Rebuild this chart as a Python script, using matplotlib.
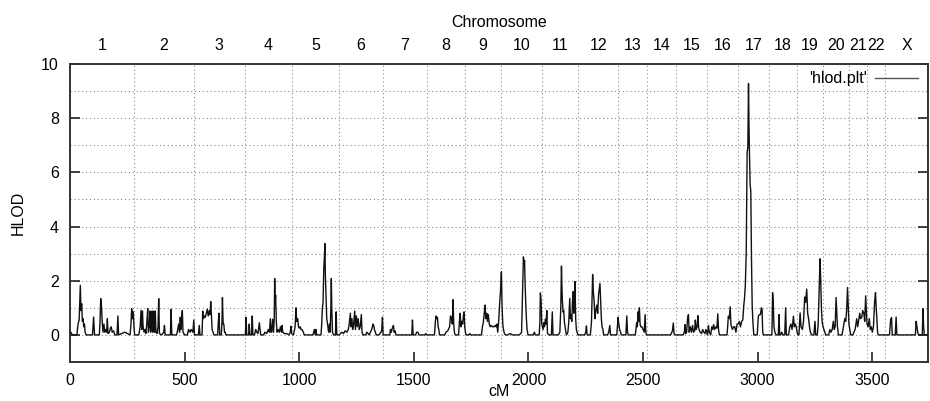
import matplotlib
matplotlib.use("Agg")
import matplotlib.pyplot as plt

plt.rcParams['font.family'] = ['Liberation Sans', 'DejaVu Sans']

# ---- data ----
chrom_names = ['1', '2', '3', '4', '5', '6', '7', '8', '9', '10', '11', '12', '13',
               '14', '15', '16', '17', '18', '19', '20', '21', '22', 'X']
chrom_bounds = [0, 278, 540, 762, 967, 1175, 1364, 1556, 1723, 1882, 2061, 2218, 2391,
                2517, 2645, 2781, 2914, 3048, 3171, 3284, 3400, 3476, 3556, 3743]

points = [
    # chr1
    (0, 0.12), (5, 0.08), (10, 0), (30, 0), (35, 0.4), (40, 0.55), (45, 1.83), (48, 0.9), (51, 1.15),
    (54, 0.5), (57, 0.6), (60, 0.3), (63, 0.4), (66, 0.1), (70, 0), (98, 0), (103, 0.66), (107, 0),
    (128, 0), (131, 0.5), (134, 1.34), (137, 1.1), (141, 0.4), (144, 0.1), (148, 0.4), (152, 0.1),
    (156, 0.2), (160, 0.1), (163, 0.6), (166, 0.05), (172, 0.1), (176, 0.25), (180, 0.3), (184, 0.1),
    (190, 0.15), (196, 0), (205, 0), (209, 0.7), (212, 0), (225, 0.05), (240, 0.1), (250, 0.05),
    (262, 0), (266, 0.4), (269, 0.97), (272, 0.6), (276, 0.85), (279, 0.3), (282, 0),
    # chr2
    (300, 0), (306, 0.3), (310, 0.9), (313, 0.2), (316, 0.88), (319, 0.3), (323, 0.1), (327, 0.2),
    (331, 0.05), (335, 0.4), (339, 0.97), (342, 0.1), (346, 0.3), (349, 0.88), (352, 0.1), (355, 0.3),
    (358, 0.88), (361, 0.1), (364, 0.3), (366, 0.88), (369, 0.1), (372, 0.88), (375, 0.1), (380, 0.05),
    (384, 0.3), (387, 1.34), (390, 0.05), (400, 0), (409, 0.1), (412, 0.35), (415, 0), (438, 0),
    (441, 0.95), (444, 0), (465, 0), (470, 0.2), (474, 0.4), (478, 0.1), (481, 0.65), (484, 0.2),
    (487, 0.6), (490, 0.9), (493, 0.1), (500, 0), (512, 0), (517, 0.2), (520, 0.15), (524, 0.1),
    (528, 0.2), (532, 0.15), (536, 0.1), (540, 0.55), (543, 0),
    # chr3
    (560, 0), (564, 0.35), (567, 0), (576, 0), (579, 0.88), (582, 0.6), (586, 0.7), (590, 0.65),
    (595, 0.8), (599, 0.95), (603, 0.7), (608, 0.9), (611, 0.75), (614, 1.23), (617, 0.7), (620, 0.2),
    (624, 0.1), (628, 0), (644, 0), (647, 0.45), (650, 0.8), (653, 0), (660, 0), (663, 0.5),
    (665, 1.38), (668, 0.4), (671, 0.4), (674, 0.1), (677, 0.1), (680, 0), (765, 0),
    # chr4
    (768, 0.65), (771, 0), (779, 0), (782, 0.4), (785, 0), (792, 0), (795, 0.7), (798, 0), (805, 0),
    (810, 0.2), (815, 0.1), (820, 0.05), (826, 0.45), (829, 0.2), (832, 0), (845, 0), (850, 0.1),
    (858, 0.05), (865, 0.2), (870, 0.1), (874, 0.6), (877, 0.1), (880, 0.1), (884, 0.58), (888, 0.1),
    (891, 0.6), (893, 2.08), (895, 1.2), (897, 1.47), (900, 0.5), (903, 0.1), (908, 0.2), (913, 0.1),
    (918, 0.3), (922, 0.1), (925, 0.35), (928, 0.1), (935, 0.05), (945, 0.05), (955, 0), (961, 0.1),
    (964, 0.32), (967, 0.05), (975, 0), (982, 0.3), (986, 1.0), (989, 0.5), (993, 0.6), (997, 0.3),
    (1000, 0.25), (1004, 0.3), (1008, 0.2), (1012, 0.2), (1018, 0.1), (1022, 0),
    # chr5
    (1060, 0), (1066, 0.2), (1070, 0), (1073, 0.2), (1076, 0), (1095, 0), (1098, 0.4), (1101, 1.0),
    (1104, 1.2), (1107, 2.45), (1110, 2.9), (1112, 3.37), (1114, 2.2), (1117, 1.4), (1120, 0.6),
    (1124, 0.38), (1128, 0.1), (1132, 0.4), (1135, 0.1), (1138, 1.0), (1140, 2.08), (1142, 1.0),
    (1145, 0.1), (1150, 0), (1158, 0), (1161, 0.85), (1164, 0), (1175, 0),
    # chr6
    (1185, 0.1), (1193, 0.05), (1200, 0.15), (1208, 0.1), (1214, 0.2), (1218, 0.4), (1223, 0.8),
    (1226, 0.3), (1230, 0.6), (1233, 0.2), (1237, 0.35), (1242, 0.88), (1245, 0.2), (1249, 0.7),
    (1253, 0.3), (1257, 0.6), (1262, 0.2), (1266, 0.3), (1271, 0.75), (1274, 0.1), (1278, 0),
    (1290, 0), (1295, 0.1), (1300, 0.05), (1305, 0), (1316, 0.2), (1319, 0.3), (1322, 0.4),
    (1325, 0.35), (1328, 0.2), (1332, 0.1), (1336, 0), (1348, 0), (1352, 0.05), (1357, 0.1),
    (1360, 0.2), (1363, 0.65), (1366, 0),
    # chr7
    (1395, 0), (1398, 0.2), (1402, 0.1), (1406, 0.25), (1409, 0.3), (1411, 0.35), (1414, 0.1),
    (1418, 0.15), (1422, 0), (1491, 0), (1494, 0.55), (1497, 0), (1508, 0), (1512, 0.1), (1518, 0.1),
    (1522, 0), (1548, 0), (1552, 0.05), (1556, 0),
    # chr8
    (1590, 0), (1594, 0.5), (1597, 0.7), (1600, 0.6), (1603, 0.65), (1606, 0.3), (1609, 0.2),
    (1612, 0), (1635, 0), (1640, 0.1), (1648, 0.15), (1656, 0.3), (1660, 0.7), (1664, 0.6),
    (1668, 0.4), (1671, 1.3), (1674, 0.4), (1677, 0.1), (1680, 0), (1695, 0), (1699, 0.5),
    (1702, 0.8), (1705, 0.3), (1709, 0.5), (1713, 0.4), (1716, 0.7), (1719, 0.85), (1722, 0.3),
    (1725, 0.1), (1728, 0), (1740, 0), (1744, 0.05), (1748, 0),
    # chr9
    (1795, 0), (1799, 0.3), (1803, 0.45), (1807, 0.8), (1811, 1.1), (1814, 0.6), (1818, 0.8),
    (1821, 0.5), (1825, 0.75), (1829, 0.4), (1833, 0.3), (1838, 0.35), (1843, 0.3), (1849, 0.3),
    (1855, 0.35), (1859, 0.3), (1862, 0.4), (1866, 0.1), (1870, 0.5), (1875, 1.25), (1878, 1.6),
    (1882, 2.33), (1885, 1.0), (1888, 0.4), (1891, 0.2), (1895, 0.05), (1900, 0),
    # chr10
    (1910, 0), (1920, 0.05), (1930, 0), (1960, 0), (1966, 0.05), (1970, 0.1), (1975, 1.8),
    (1978, 2.88), (1981, 2.6), (1983, 2.75), (1985, 2.0), (1988, 1.2), (1991, 0.6), (1994, 0.2),
    (1998, 0), (2020, 0), (2026, 0.1), (2030, 0), (2047, 0), (2050, 0.5), (2052, 1.55), (2055, 1.3),
    (2058, 0.4), (2061, 0.3), (2064, 0.2), (2067, 0.45), (2070, 0.3), (2074, 0.58), (2077, 0.4),
    (2080, 0.9), (2083, 0.05), (2090, 0),
    # chr11
    (2100, 0), (2104, 0.85), (2107, 0), (2130, 0), (2137, 0.1), (2141, 1.0), (2144, 2.54),
    (2146, 1.8), (2148, 1.25), (2151, 0.85), (2154, 0.9), (2157, 0.45), (2160, 0.3), (2163, 0.1),
    (2166, 0), (2172, 0.1), (2176, 0.5), (2180, 1.35), (2183, 0.6), (2186, 0.75), (2189, 0.5),
    (2192, 1.2), (2195, 1.6), (2198, 0.8), (2201, 1.3), (2203, 1.97), (2206, 0.6), (2209, 0.2),
    (2212, 0.1), (2216, 0),
    # chr12
    (2245, 0), (2250, 0.1), (2253, 0.33), (2256, 0), (2270, 0), (2275, 0.5), (2280, 2.23),
    (2283, 1.6), (2286, 1.3), (2290, 0.6), (2294, 0.9), (2298, 1.1), (2302, 0.8), (2306, 1.5),
    (2309, 1.7), (2312, 1.9), (2315, 1.2), (2318, 0.6), (2321, 0.3), (2325, 0.2), (2328, 0),
    (2345, 0), (2350, 0.1), (2355, 0.35), (2358, 0), (2385, 0), (2388, 0.3), (2391, 0.65),
    (2394, 0.4), (2398, 0.2), (2402, 0.1), (2405, 0),
    # chr13
    (2425, 0), (2429, 0.7), (2432, 0.1), (2436, 0), (2466, 0), (2469, 0.2), (2472, 0.45),
    (2475, 0.3), (2478, 0.85), (2481, 0.5), (2484, 1.0), (2487, 0.4), (2490, 0.3), (2495, 0.3),
    (2500, 0.2), (2505, 0.1), (2509, 0.75), (2512, 0.1), (2515, 0),
    # chr14
    (2620, 0), (2625, 0.1), (2628, 0.15), (2632, 0.44), (2635, 0.05), (2640, 0),
    # chr15
    (2675, 0), (2680, 0.1), (2683, 0.38), (2686, 0.05), (2690, 0.1), (2694, 0.6), (2698, 0.75),
    (2701, 0.1), (2706, 0.3), (2711, 0.1), (2716, 0.35), (2720, 0.1), (2725, 0.15), (2728, 0.55),
    (2731, 0.2), (2736, 0.3), (2739, 0.71), (2742, 0.3), (2746, 0.15), (2750, 0.1), (2755, 0.05),
    (2760, 0.2), (2765, 0.1), (2770, 0.05), (2774, 0.2), (2778, 0.1), (2781, 0),
    # chr16
    (2782, 0.1), (2785, 0.35), (2789, 0.1), (2795, 0), (2800, 0.3), (2804, 0.2), (2808, 0.38),
    (2812, 0.2), (2818, 0.3), (2822, 0.25), (2826, 0.78), (2829, 0.2), (2833, 0), (2866, 0),
    (2869, 0.3), (2872, 0.69), (2876, 0.6), (2880, 1.04), (2883, 0.4), (2886, 0.3), (2890, 0.2),
    (2895, 0.3), (2900, 0.3), (2905, 0.1), (2910, 0.4), (2915, 0.4), (2920, 0.5), (2925, 0.3),
    (2930, 0.5), (2935, 0.55), (2939, 1.06),
    # chr17
    (2942, 1.3), (2946, 1.8), (2950, 3.06), (2954, 6.75), (2957, 6.9), (2960, 9.28), (2962, 7.8),
    (2964, 6.8), (2967, 5.55), (2970, 5.3), (2973, 2.8), (2976, 1.1), (2979, 0.5), (2983, 0),
    (2998, 0), (3003, 0.7), (3008, 0.75), (3012, 0.75), (3016, 1.0), (3019, 0.95), (3022, 0.1),
    (3025, 0), (3062, 0), (3065, 1.56), (3068, 1.2), (3071, 0.3), (3075, 0.1), (3080, 0), (3090, 0),
    (3093, 0.75), (3096, 0),
    # chr18
    (3100, 0), (3105, 0.1), (3110, 0), (3118, 0), (3122, 1.0), (3125, 0), (3135, 0), (3140, 0.3),
    (3145, 0.4), (3150, 0.2), (3156, 0.69), (3160, 0.3), (3164, 0.4), (3168, 0.3), (3172, 0.1),
    (3176, 0),
    # chr19
    (3180, 0), (3185, 0.81), (3189, 0.3), (3195, 0.2), (3200, 0.5), (3205, 1.4), (3209, 1.2),
    (3214, 1.69), (3218, 0.8), (3222, 0.6), (3226, 0.3), (3230, 0.1), (3235, 0), (3245, 0),
    (3250, 0.5), (3253, 0), (3260, 0), (3264, 0.4), (3268, 1.56), (3272, 2.81), (3275, 2.0),
    (3278, 1.0), (3281, 0.5), (3285, 0.3), (3289, 0.2), (3293, 0.1), (3297, 0),
    # chr20
    (3310, 0), (3315, 0.2), (3320, 0.1), (3325, 0.2), (3330, 0.5), (3334, 0.2), (3338, 0.3),
    (3342, 1.38), (3345, 0.8), (3348, 0.3), (3352, 0), (3368, 0), (3372, 0.2), (3376, 0.4),
    (3380, 0.6), (3384, 0.5), (3388, 0.9), (3392, 1.75), (3395, 1.1), (3398, 0.4), (3402, 0.2),
    (3406, 0),
    # chr21
    (3415, 0), (3420, 0.1), (3425, 0.2), (3432, 0.6), (3436, 0.3), (3440, 0.5), (3445, 0.8),
    (3449, 0.6), (3454, 0.65), (3458, 0.9), (3463, 0.8), (3467, 0.5), (3471, 1.44), (3474, 0.9),
    (3477, 0.4),
    # chr22
    (3482, 0.3), (3487, 0.6), (3491, 0.2), (3496, 0.3), (3500, 0.1), (3505, 0.3), (3510, 1.2),
    (3514, 1.56), (3517, 1.0), (3520, 0.6), (3523, 0.1), (3526, 0),
    # X
    (3575, 0), (3580, 0.56), (3584, 0.64), (3587, 0), (3600, 0), (3604, 0.66), (3607, 0),
    (3688, 0), (3691, 0.5), (3695, 0.3), (3698, 0.1), (3702, 0), (3718, 0), (3721, 0.97),
    (3724, 0.3), (3727, 0), (3740, 0),
]
cm = [p[0] for p in points]
hlod = [p[1] for p in points]

x_ticks = [0, 500, 1000, 1500, 2000, 2500, 3000, 3500]
y_ticks = [0, 2, 4, 6, 8, 10]
y_grid = [-1, 1, 3, 5, 7, 9]

FS = 11.5

# ---- figure ----
fig = plt.figure(figsize=(9.3, 4.01), dpi=100)
ax = fig.add_axes([70 / 930, 39 / 401, 858 / 930, 298 / 401])
xmax = chrom_bounds[-1]
ax.set_xlim(0, xmax)
ax.set_ylim(-1, 10)

grid_kw = dict(color='#8a8a8a', lw=0.8, ls=(0, (1, 2.5)), zorder=1)
for b in chrom_bounds[1:-1]:
    ax.axvline(b, **grid_kw)

ax.set_yticks(y_ticks)
ax.set_yticks(y_grid, minor=True)
ax.grid(True, axis='y', which='both', **grid_kw)

ax.plot(cm, hlod, color='#111111', lw=1.0, zorder=3, label="'hlod.plt'")

ax.set_xticks(x_ticks)
ax.tick_params(axis='both', which='major', direction='in', length=7, width=1.2,
               labelsize=FS, top=True, right=True, color='#222222')
ax.tick_params(axis='x', pad=8)
ax.tick_params(axis='y', pad=8)
ax.tick_params(axis='both', which='minor', length=0)
for s in ax.spines.values():
    s.set_linewidth(1.4)
    s.set_color('#333333')

ax.set_xlabel('cM', fontsize=FS, labelpad=-3)
ax.set_ylabel('HLOD', fontsize=FS, labelpad=11)

ax2 = ax.twiny()
ax2.set_xlim(0, xmax)
centers = [(chrom_bounds[i] + chrom_bounds[i + 1]) / 2 for i in range(len(chrom_names))]
ax2.set_xticks(centers, labels=chrom_names)
ax2.tick_params(axis='x', length=0, pad=8, labelsize=FS)
ax2.set_xlabel('Chromosome', fontsize=FS, labelpad=8)
for s in ax2.spines.values():
    s.set_visible(False)

leg = ax.legend(loc='center right', bbox_to_anchor=(0.988, 0.951), frameon=False,
                markerfirst=False, handlelength=2.7, handletextpad=0.5,
                borderpad=0, borderaxespad=0, fontsize=FS)
for line in leg.get_lines():
    line.set_color('#555555')
    line.set_linewidth(1.0)

fig.savefig('out.png', dpi=100)
